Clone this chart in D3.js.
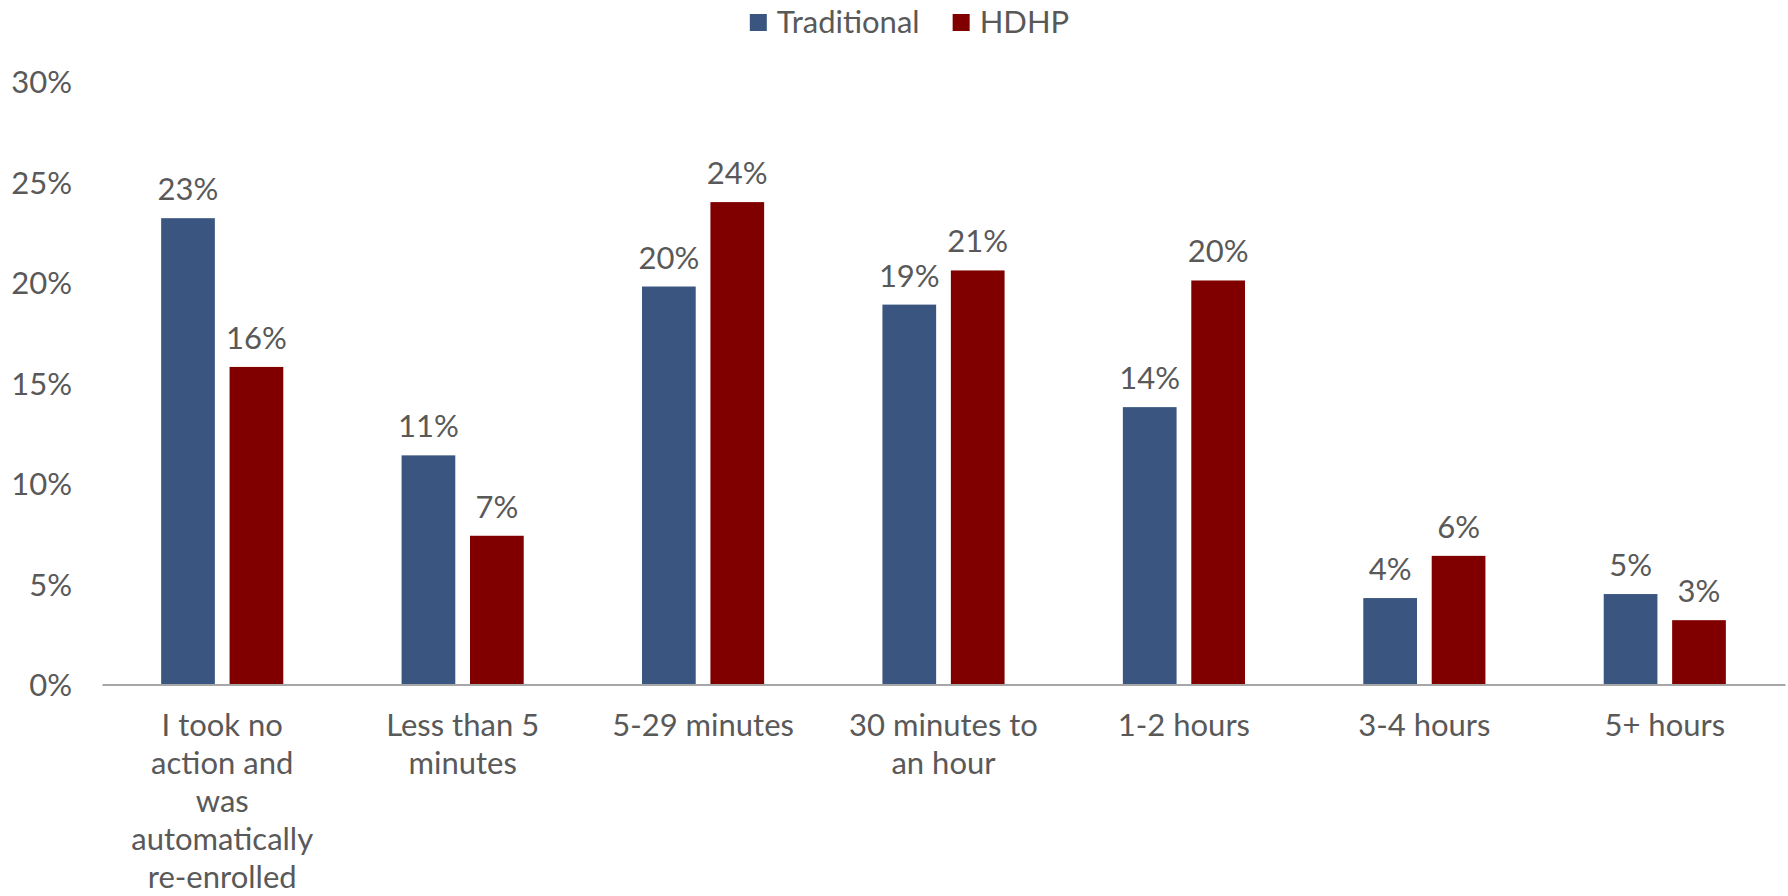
<!DOCTYPE html>
<html>
<head>
<meta charset="utf-8">
<script src="https://cdn.jsdelivr.net/npm/d3@7"></script>
<style>
  html, body { margin: 0; padding: 0; background: #ffffff; }
  svg { display: block; }
  text { font-family: Lato, "DejaVu Sans", sans-serif; fill: #595959; }
</style>
</head>
<body>
<svg id="chart" width="1788" height="896"></svg>
<script>
// Time spent choosing a plan, by plan type (share of respondents, %)
const categoryLines = [
  ["I took no", "action and", "was", "automatically", "re-enrolled"],
  ["Less than 5", "minutes"],
  ["5-29 minutes"],
  ["30 minutes to", "an hour"],
  ["1-2 hours"],
  ["3-4 hours"],
  ["5+ hours"]
];
const categories = categoryLines.map(l => l.join(" "));
const series = ["Traditional", "HDHP"];
const traditional = [23.2, 11.4, 19.8, 18.9, 13.8, 4.3, 4.5];
const hdhp        = [15.8, 7.4, 24.0, 20.6, 20.1, 6.4, 3.2];
const yTicks = [0, 5, 10, 15, 20, 25, 30];
const colors = { "Traditional": "#3a5580", "HDHP": "#800000" };

const values = { "Traditional": traditional, "HDHP": hdhp };
const rows = categories.map((c, i) => ({
  category: c,
  bars: series.map(s => ({ series: s, value: values[s][i] }))
}));

const svg = d3.select("#chart");
const fontSize = 31;

const x0 = d3.scaleBand()
  .domain(categories)
  .range([102, 1785])
  .paddingInner(0.492)
  .paddingOuter(0.246);

const x1 = d3.scaleBand()
  .domain(series)
  .range([0, x0.bandwidth()])
  .paddingInner(0.215);

const y = d3.scaleLinear()
  .domain([0, 30])
  .range([684.5, 81.5]);

// y axis labels (no line, no ticks)
const yAxis = svg.append("g")
  .attr("transform", "translate(80,0)")
  .call(d3.axisLeft(y).tickValues(yTicks).tickSize(0).tickPadding(8).tickFormat(d => d + "%"));
yAxis.select(".domain").remove();
yAxis.selectAll("text")
  .attr("dy", null)
  .attr("y", 11)
  .style("font-size", fontSize + "px")
  .style("font-family", null)
  .attr("fill", null);

// bars
const groups = svg.append("g").selectAll("g")
  .data(rows)
  .join("g")
  .attr("transform", d => `translate(${x0(d.category)},0)`);

groups.selectAll("rect")
  .data(d => d.bars)
  .join("rect")
  .attr("x", d => x1(d.series))
  .attr("width", x1.bandwidth())
  .attr("y", d => y(d.value))
  .attr("height", d => y(0) - y(d.value))
  .attr("fill", d => colors[d.series]);

// value labels
groups.selectAll("text.value")
  .data(d => d.bars)
  .join("text")
  .attr("class", "value")
  .attr("x", d => x1(d.series) + x1.bandwidth() / 2)
  .attr("y", d => y(d.value) - 18)
  .attr("text-anchor", "middle")
  .style("font-size", fontSize + "px")
  .text(d => Math.round(d.value) + "%");

// category axis
const xAxis = svg.append("g")
  .attr("transform", `translate(0,${y(0)})`)
  .call(d3.axisBottom(x0).tickSize(0).tickFormat(""));
xAxis.select(".domain")
  .attr("stroke", "#a6a6a6")
  .attr("stroke-width", 2);

xAxis.selectAll(".tick").each(function(d, i) {
  const t = d3.select(this).append("text")
    .attr("text-anchor", "middle")
    .style("font-size", fontSize + "px");
  categoryLines[i].forEach((line, j) => {
    t.append("tspan")
      .attr("x", 0)
      .attr("y", 51 + j * 38)
      .text(line);
  });
});

// legend
const legend = svg.append("g");
let lx = 0;
series.forEach((s, i) => {
  const item = legend.append("g").attr("transform", `translate(${lx},0)`);
  item.append("rect")
    .attr("x", 0).attr("y", 14)
    .attr("width", 17).attr("height", 17)
    .attr("fill", colors[s]);
  const txt = item.append("text")
    .attr("x", 27).attr("y", 33)
    .style("font-size", fontSize + "px")
    .text(s);
  lx += 27 + txt.node().getComputedTextLength() + 33;
});
const legendWidth = lx - 33;
legend.attr("transform", `translate(${909.5 - legendWidth / 2},0)`);
</script>
</body>
</html>
